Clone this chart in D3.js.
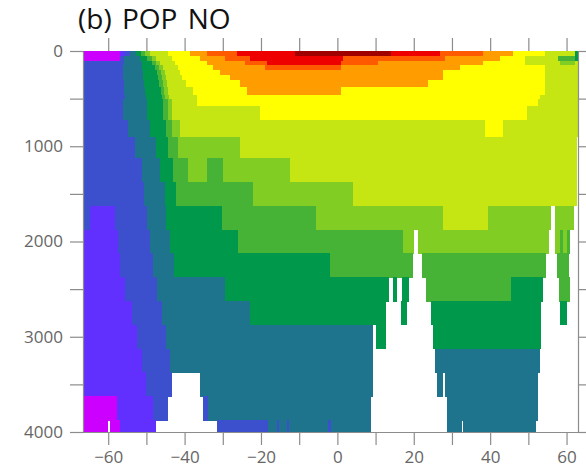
<!DOCTYPE html>
<html>
<head>
<meta charset="utf-8">
<script src="https://cdn.jsdelivr.net/npm/d3@7"></script>
<style>
  body { margin: 0; background: #fff; }
  text { font-family: "Open Sans", "Noto Sans", sans-serif; }
</style>
</head>
<body>
<svg id="chart" width="586" height="470"></svg>
<script>
// Zonal-mean section: latitude (deg) vs depth (m), values binned into 13 classes.
const title = "(b) POP NO";
const latDomain = [-66.6, 63.0];
const depthDomain = [0, 4000];

// Interfaces of the depth layers (m)
const depthEdges = [0, 50, 100, 150, 200, 250, 300, 375, 460, 500, 575, 725, 900,
  1125, 1375, 1625, 1875, 2125, 2375, 2625, 2875, 3125, 3375, 3625, 3875, 4000];

// Class colours, lowest to highest
const classColors = ["#cc00ff", "#6130ff", "#3c50cd", "#1d748c", "#00984a", "#46b336",
  "#82cd24", "#c5e613", "#ffff00", "#ff9c00", "#ff5a00", "#ee0000", "#a00000"];

// One entry per layer: [northern edge of run (deg), class] from the southern boundary northward.
// null marks topography.
const layers = [
  [[-56.9,0],[-55.6,1],[-54.3,2],[-52.7,3],[-51.4,4],[-50.3,5],[-49.0,6],[-44.3,7],[-38.6,8],[-34.1,9],[-26.3,10],[-11.1,11],[14.1,12],[26.9,11],[38.1,10],[46.0,9],[54.4,8],[62.2,7],[63,4]],
  [[-56.9,0],[-55.8,2],[-51.7,3],[-49.8,4],[-48.5,5],[-47.5,6],[-43.3,7],[-35.9,8],[-29.4,9],[-22.9,10],[1.5,11],[28.2,10],[42.6,9],[49.1,8],[57.8,7],[62.2,5],[63,4]],
  [[-55.8,2],[-51.1,3],[-48.5,4],[-47.5,5],[-46.4,6],[-42.5,7],[-34.1,8],[-24.2,9],[-18.4,10],[1.0,11],[10.7,10],[38.1,9],[49.1,8],[58.3,7],[62.2,6],[63,7]],
  [[-56.1,2],[-51.1,3],[-47.7,4],[-46.7,5],[-45.6,6],[-41.7,7],[-32.5,8],[-18.9,9],[1.0,10],[32.1,9],[54.4,8],[63,7]],
  [[-56.1,2],[-50.9,3],[-47.2,4],[-46.2,5],[-45.1,6],[-41.2,7],[-30.7,8],[27.7,9],[54.4,8],[63,7]],
  [[-56.1,2],[-50.9,3],[-46.9,4],[-45.9,5],[-44.8,6],[-40.7,7],[-28.1,8],[27.7,9],[54.4,8],[63,7]],
  [[-55.8,2],[-50.6,3],[-46.7,4],[-45.6,5],[-44.6,6],[-39.6,7],[-25.5,8],[23.7,9],[54.4,8],[63,7]],
  [[-55.8,2],[-50.3,3],[-46.2,4],[-45.4,5],[-44.3,6],[-37.8,7],[-23.6,8],[1.0,9],[54.4,8],[63,7]],
  [[-55.6,2],[-50.1,3],[-45.9,4],[-45.1,5],[-44.1,6],[-36.7,7],[53.1,8],[63,7]],
  [[-56.1,2],[-49.8,3],[-45.6,4],[-44.3,5],[-43.3,6],[-36.7,7],[52.5,8],[63,7]],
  [[-56.1,2],[-49.8,3],[-45.6,4],[-44.3,5],[-43.3,6],[-20.2,7],[49.7,8],[63,7]],
  [[-54.8,2],[-49.0,3],[-44.8,4],[-43.3,5],[-41.2,6],[38.7,7],[43.4,8],[63,7]],
  [[-53.0,2],[-47.5,3],[-44.3,4],[-41.7,5],[-25.5,6],[62.5,7],[63,null]],
  [[-51.1,2],[-46.4,3],[-43.0,4],[-39.1,5],[-34.1,6],[-29.9,5],[-12.4,6],[62.5,7],[63,null]],
  [[-50.6,2],[-45.1,3],[-42.2,4],[-22.1,5],[4.1,6],[62.5,7],[63,null]],
  [[-64.7,2],[-58.2,1],[-49.8,2],[-44.8,3],[-30.2,4],[-5.6,5],[27.7,6],[39.4,7],[55.9,6],[57.0,null],[61.7,6],[63,null]],
  [[-57.4,1],[-49.0,2],[-43.8,3],[-26.0,4],[17.2,5],[19.8,6],[21.1,null],[55.2,6],[57.0,null],[58.3,6],[59.1,5],[60.1,6],[60.9,5],[63,null]],
  [[-56.9,1],[-48.2,2],[-42.7,3],[-1.9,4],[19.6,5],[22.2,null],[54.4,5],[57.5,null],[60.4,5],[63,null]],
  [[-55.6,1],[-47.2,2],[-29.4,3],[13.5,4],[14.6,null],[15.6,4],[16.9,null],[18.5,4],[23.2,null],[45.5,5],[53.6,4],[58.0,null],[60.7,5],[63,null]],
  [[-53.7,1],[-45.9,2],[-22.9,3],[12.7,4],[16.7,null],[18.0,4],[24.5,null],[53.3,4],[58.3,null],[59.9,4],[63,null]],
  [[-52.4,1],[-44.8,2],[9.3,3],[10.1,null],[12.5,4],[25.1,null],[53.1,4],[63,null]],
  [[-51.1,1],[-43.8,2],[9.1,3],[25.6,null],[52.8,3],[63,null]],
  [[-50.1,1],[-43.3,2],[-35.9,null],[9.1,3],[26.1,null],[27.4,3],[28.2,null],[52.5,3],[63,null]],
  [[-57.7,0],[-48.2,1],[-44.6,2],[-35.2,null],[-33.8,2],[8.8,3],[28.7,null],[52.3,3],[63,null]],
  [[-60.3,0],[-59.5,null],[-56.9,0],[-47.7,1],[-31.5,null],[-18.1,2],[-15.8,3],[-15.3,2],[-13.2,3],[-12.6,2],[-2.4,3],[-1.6,2],[8.8,3],[28.7,null],[32.4,3],[32.9,null],[52.0,3],[63,null]]
];

const latTicks = d3.range(-60, 61, 10);
const latLabels = d3.range(-60, 61, 20);
const depthTicks = d3.range(0, 4001, 500);
const depthLabels = d3.range(0, 4001, 1000);

const svg = d3.select("#chart");
const plot = { left: 83, right: 578, top: 51, bottom: 432 };

const x = d3.scaleLinear().domain(latDomain).range([plot.left, plot.right]);
const y = d3.scaleLinear().domain(depthDomain).range([plot.top, plot.bottom]);
const color = d3.scaleOrdinal().domain(d3.range(classColors.length)).range(classColors);

// Flatten layers into cells
const cells = [];
layers.forEach((runs, i) => {
  let start = latDomain[0];
  runs.forEach(([end, cls]) => {
    if (cls !== null) cells.push({ lat0: start, lat1: end, z0: depthEdges[i], z1: depthEdges[i + 1], cls });
    start = end;
  });
});

svg.append("g")
  .attr("shape-rendering", "crispEdges")
  .selectAll("rect")
  .data(cells)
  .join("rect")
  .attr("x", d => x(d.lat0))
  .attr("y", d => y(d.z0))
  .attr("width", d => x(d.lat1) - x(d.lat0) + 0.5)
  .attr("height", d => y(d.z1) - y(d.z0) + 0.5)
  .attr("fill", d => color(d.cls));

const fmt = v => (v < 0 ? "\u2212" : "") + Math.abs(v);
const axisColor = "#8c8c8c";
const labelColor = "#666";

function styleAxis(g) {
  g.select(".domain").attr("stroke", axisColor).attr("stroke-width", 1.2);
  g.selectAll(".tick line").attr("stroke", axisColor).attr("stroke-width", 1.2);
  g.selectAll(".tick text").attr("fill", labelColor).attr("font-size", 17);
}

svg.append("g")
  .attr("transform", `translate(0,${plot.bottom})`)
  .call(d3.axisBottom(x).tickValues(latTicks).tickSize(13).tickSizeOuter(0).tickPadding(6)
    .tickFormat(v => latLabels.includes(v) ? fmt(v) : ""))
  .call(styleAxis);

svg.append("g")
  .attr("transform", `translate(0,${plot.top})`)
  .call(d3.axisTop(x).tickValues(latTicks).tickSize(13).tickSizeOuter(0).tickFormat(""))
  .call(styleAxis)
  .call(g => g.select(".domain").remove());

svg.append("g")
  .attr("transform", `translate(${plot.left},0)`)
  .call(d3.axisLeft(y).tickValues(depthTicks).tickSize(13).tickSizeOuter(0).tickPadding(7)
    .tickFormat(v => depthLabels.includes(v) ? String(v) : ""))
  .call(styleAxis);

svg.append("g")
  .attr("transform", `translate(${plot.right},0)`)
  .call(d3.axisRight(y).tickValues(depthTicks).tickSize(8).tickSizeOuter(0).tickFormat(""))
  .call(styleAxis);

svg.append("text")
  .attr("x", 78)
  .attr("y", 29)
  .attr("font-size", 28)
  .attr("word-spacing", 3)
  .attr("fill", "#111")
  .text(title);
</script>
</body>
</html>
